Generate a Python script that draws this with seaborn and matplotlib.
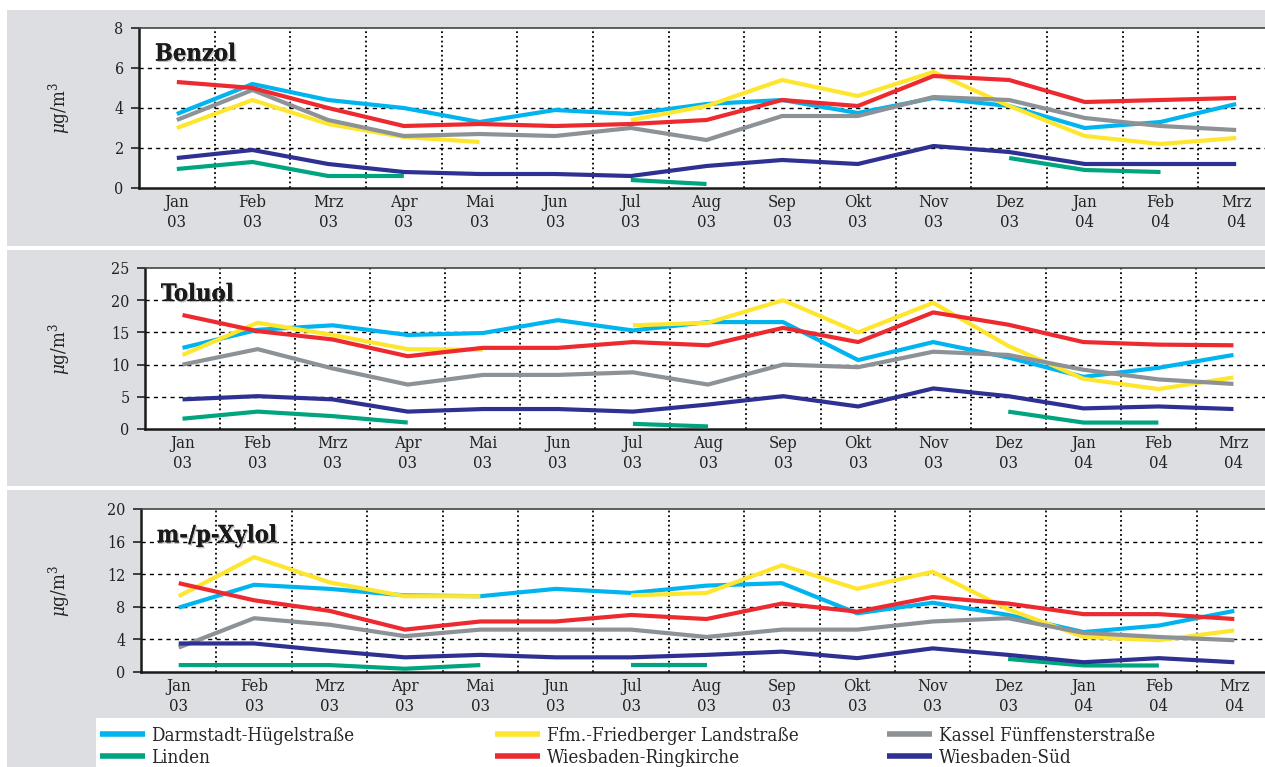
import numpy as np
import pandas as pd
import matplotlib
matplotlib.use("Agg")
import matplotlib.pyplot as plt
import matplotlib.patheffects as pe
from matplotlib.patches import Rectangle
from matplotlib.lines import Line2D
import seaborn as sns

sns.set_theme(style="white")
plt.rcParams["font.family"] = ["DejaVu Serif"]
plt.rcParams["font.stretch"] = "condensed"
plt.rcParams["mathtext.fontset"] = "dejavuserif"

nan = np.nan

# Months of the measuring period (Jan 2003 - Mar 2004)
months = ["Jan", "Feb", "Mrz", "Apr", "Mai", "Jun", "Jul", "Aug", "Sep",
          "Okt", "Nov", "Dez", "Jan", "Feb", "Mrz"]
years = ["03"] * 12 + ["04"] * 3

stations = ["Darmstadt-Hügelstraße", "Ffm.-Friedberger Landstraße",
            "Kassel Fünffensterstraße", "Linden", "Wiesbaden-Ringkirche",
            "Wiesbaden-Süd"]
colors = ["#00b5ef", "#ffe62e", "#8c9296", "#00a57f", "#ec2a2f", "#2e3192"]

# Benzol, monthly means in µg/m³
benzol_darmstadt = [3.7, 5.2, 4.4, 4.0, 3.3, 3.9, 3.7, 4.2, 4.4, 3.75, 4.5, 4.1, 3.0, 3.3, 4.2]
benzol_ffm = [3.0, 4.4, 3.2, 2.55, 2.3, nan, 3.4, 4.1, 5.4, 4.6, 5.8, 4.1, 2.6, 2.2, 2.5]
benzol_kassel = [3.4, 4.9, 3.4, 2.6, 2.7, 2.6, 3.0, 2.4, 3.6, 3.6, 4.55, 4.4, 3.5, 3.1, 2.9]
benzol_linden = [0.95, 1.3, 0.6, 0.6, nan, nan, 0.4, 0.2, nan, nan, nan, 1.5, 0.9, 0.8, nan]
benzol_ringkirche = [5.3, 5.0, 4.0, 3.1, 3.2, 3.1, 3.2, 3.4, 4.4, 4.1, 5.6, 5.4, 4.3, 4.4, 4.5]
benzol_sued = [1.5, 1.9, 1.2, 0.8, 0.7, 0.7, 0.6, 1.1, 1.4, 1.2, 2.1, 1.8, 1.2, 1.2, 1.2]

# Toluol
toluol_darmstadt = [12.6, 15.4, 16.1, 14.6, 14.9, 16.9, 15.3, 16.6, 16.6, 10.7, 13.5, 11.1, 8.1, 9.5, 11.5]
toluol_ffm = [11.5, 16.5, 14.6, 12.4, 12.3, nan, 16.1, 16.5, 20.0, 15.0, 19.6, 12.9, 7.8, 6.2, 8.0]
toluol_kassel = [10.0, 12.4, 9.4, 6.9, 8.4, 8.4, 8.8, 6.9, 10.0, 9.6, 12.0, 11.5, 9.2, 7.7, 7.0]
toluol_linden = [1.6, 2.7, 2.0, 1.0, nan, nan, 0.8, 0.4, nan, nan, nan, 2.7, 1.0, 1.0, nan]
toluol_ringkirche = [17.7, 15.2, 13.9, 11.3, 12.6, 12.6, 13.5, 13.0, 15.7, 13.5, 18.1, 16.2, 13.5, 13.1, 13.0]
toluol_sued = [4.6, 5.1, 4.6, 2.7, 3.1, 3.1, 2.7, 3.8, 5.1, 3.5, 6.3, 5.1, 3.2, 3.5, 3.1]

# m-/p-Xylol
xylol_darmstadt = [7.9, 10.7, 10.2, 9.4, 9.3, 10.2, 9.7, 10.6, 10.9, 7.2, 8.5, 7.0, 4.9, 5.7, 7.5]
xylol_ffm = [9.3, 14.1, 11.0, 9.3, 9.3, nan, 9.4, 9.7, 13.1, 10.2, 12.3, 7.7, 4.3, 3.9, 5.1]
xylol_kassel = [3.0, 6.6, 5.8, 4.4, 5.2, 5.2, 5.2, 4.3, 5.2, 5.2, 6.2, 6.6, 4.8, 4.3, 3.9]
xylol_linden = [0.85, 0.85, 0.85, 0.4, 0.85, nan, 0.85, 0.85, nan, nan, nan, 1.6, 0.8, 0.8, nan]
xylol_ringkirche = [10.9, 8.8, 7.5, 5.2, 6.2, 6.2, 7.0, 6.5, 8.4, 7.4, 9.2, 8.4, 7.1, 7.1, 6.5]
xylol_sued = [3.5, 3.5, 2.6, 1.8, 2.1, 1.8, 1.8, 2.1, 2.5, 1.7, 2.9, 2.1, 1.2, 1.7, 1.2]

panels = [
    ("Benzol", [benzol_darmstadt, benzol_ffm, benzol_kassel, benzol_linden,
                benzol_ringkirche, benzol_sued], 8, [0, 2, 4, 6, 8]),
    ("Toluol", [toluol_darmstadt, toluol_ffm, toluol_kassel, toluol_linden,
                toluol_ringkirche, toluol_sued], 25, [0, 5, 10, 15, 20, 25]),
    ("m-/p-Xylol", [xylol_darmstadt, xylol_ffm, xylol_kassel, xylol_linden,
                    xylol_ringkirche, xylol_sued], 20, [0, 4, 8, 12, 16, 20]),
]


def long_frame(series_list):
    """Long table; gaps in a series start a new line segment."""
    rows = []
    for station, vals in zip(stations, series_list):
        seg, gap = 0, True
        for i, v in enumerate(vals):
            if np.isnan(v):
                gap = True
                continue
            if gap:
                seg += 1
            gap = False
            rows.append({"month": i, "value": v, "station": station,
                         "segment": f"{station}#{seg}"})
    return pd.DataFrame(rows)


W, H = 1265, 767
fig = plt.figure(figsize=(W / 100, H / 100), dpi=100)
fig.patch.set_facecolor("white")

bg = "#dcdee2"


def frect(x0, y0, x1, y1, color):
    fig.add_artist(Rectangle((x0 / W, 1 - y1 / H), (x1 - x0) / W, (y1 - y0) / H,
                             transform=fig.transFigure, facecolor=color,
                             edgecolor="none", zorder=-10))


# grey panel backgrounds and white legend box
frect(7, 10, W, 246, bg)
frect(7, 250, W, 486, bg)
frect(7, 490, W, H, bg)
frect(96, 718, W, H, "white")

# axes boxes in pixels: left, top, right, bottom
boxes = [(139, 28, 1274, 188), (145, 268, 1271, 429), (141, 509, 1272, 672)]

for (title, series, ymax, yticks), (l, t, r, b) in zip(panels, boxes):
    ax = fig.add_axes([l / W, 1 - b / H, (r - l) / W, (b - t) / H])
    ax.set_facecolor("white")
    df = long_frame(series)
    sns.lineplot(data=df, x="month", y="value", hue="station",
                 hue_order=stations, palette=colors, units="segment",
                 estimator=None, sort=False, legend=False, linewidth=3.0,
                 solid_capstyle="butt", ax=ax, zorder=3)
    ax.set_xlim(-0.5, 14.5)
    ax.set_ylim(0, ymax)
    ax.set_yticks(yticks)
    ax.set_yticklabels([str(v) for v in yticks], fontsize=11.5, color="#222222")
    ax.set_xticks(range(15))
    ax.set_xticklabels([f"{m}\n{y}" for m, y in zip(months, years)],
                       fontsize=12, color="#222222", linespacing=1.25)
    ax.set_xticks(np.arange(0.5, 14.5, 1.0), minor=True)
    ax.tick_params(axis="x", which="major", direction="in", length=4,
                   width=1.2, color="#222222", pad=4)
    ax.tick_params(axis="x", which="minor", direction="out", length=5,
                   width=1.2, color="#222222")
    ax.tick_params(axis="y", direction="out", length=6, width=1.2,
                   color="#222222", pad=5, left=True)
    ax.set_xlabel("")
    ax.set_ylabel(r"$\mu$g/m$^3$", fontsize=13.5, color="#222222")
    ax.yaxis.set_label_coords((72 - l) / (r - l), 0.5)
    ax.grid(False)
    for yv in yticks[1:-1]:
        ax.axhline(yv, color="black", lw=1.0, ls=(0, (3, 3)), zorder=1)
    for xv in np.arange(0.5, 14.5, 1.0):
        ax.axvline(xv, color="black", lw=1.3, ls=(0, (1, 1.6)), zorder=1)
    for side in ["left", "bottom"]:
        ax.spines[side].set_color("#1a1a1a")
        ax.spines[side].set_linewidth(1.8)
    ax.spines["top"].set_color("#444444")
    ax.spines["top"].set_linewidth(1.2)
    ax.spines["right"].set_visible(False)
    ax.text(0.014, 0.84, title, transform=ax.transAxes, fontsize=17,
            fontweight="bold", color="#1a1a1a", va="center", ha="left",
            zorder=5,
            path_effects=[pe.withSimplePatchShadow(offset=(1.0, -1.0),
                                                   shadow_rgbFace="#999999",
                                                   alpha=0.6),
                          pe.Normal()])

# legend: three columns of two entries
handles = [Line2D([], [], color=c, lw=4, solid_capstyle="butt") for c in colors]
col_x = [100, 495, 887]
for k, x in enumerate(col_x):
    idx = [k, k + 3]
    fig.legend([handles[i] for i in idx], [stations[i] for i in idx],
               loc="upper left", bbox_to_anchor=(x / W, 1 - 727 / H),
               frameon=False, fontsize=13.5, handlelength=2.4,
               handletextpad=0.35, labelspacing=0.2, borderpad=0,
               borderaxespad=0)

fig.savefig("out.png", dpi=100, facecolor="white")
